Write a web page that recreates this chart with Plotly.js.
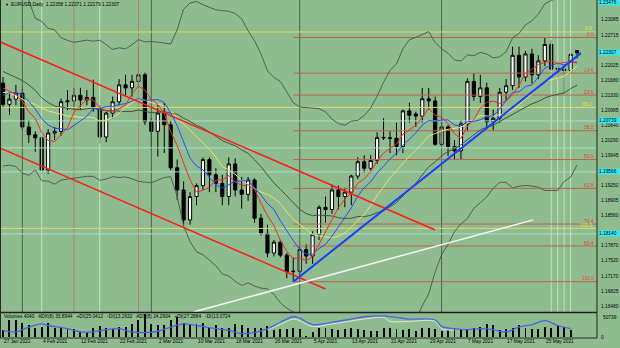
<!DOCTYPE html>
<html><head><meta charset="utf-8">
<script src="https://cdn.plot.ly/plotly-3.0.1.min.js"></script>
<style>html,body{margin:0;padding:0;background:#8FBC8F;}#chart{width:620px;height:348px;}</style>
</head><body><div id="chart"></div>
<script>
// ---------- data ----------
const dateLabels = ["27 Jan 2021","4 Feb 2021","12 Feb 2021","22 Feb 2021","2 Mar 2021","10 Mar 2021","18 Mar 2021","26 Mar 2021","5 Apr 2021","13 Apr 2021","21 Apr 2021","29 Apr 2021","7 May 2021","17 May 2021","25 May 2021"];
const dateLabelBars = [0,6,12,18,24,30,36,42,48,54,60,66,72,78,84];

// closes before the first visible bar (used only for the indicators)
const preClose = [1.2215,1.2250,1.2296,1.2216,1.2249,1.2297,1.2326,1.2272,1.2220,1.2152,1.2207,1.2160,1.2156,1.2079,1.2076,1.2131,1.2106,1.2164,1.2172,1.2140,1.2161];

const open  = [1.2161,1.2112,1.2124,1.2138,1.2060,1.2042,1.2035,1.1961,1.2046,1.2050,1.2118,1.2120,1.2133,1.2122,1.2128,1.2105,1.2037,1.2092,1.2118,1.2157,1.2150,1.2165,1.2180,1.2072,1.2050,1.2092,1.2065,1.1966,1.1915,1.1846,1.1900,1.1925,1.1985,1.1950,1.1930,1.1900,1.1975,1.1915,1.1905,1.1938,1.1850,1.1815,1.1770,1.1795,1.1765,1.1727,1.1728,1.1778,1.1763,1.1812,1.1875,1.1870,1.1915,1.1900,1.1910,1.1947,1.1980,1.1965,1.1983,1.2036,1.2035,1.2034,1.2015,1.2097,1.2090,1.2085,1.2125,1.2120,1.2020,1.2060,1.2015,1.2005,1.2067,1.2165,1.2130,1.2150,1.2072,1.2080,1.2140,1.2155,1.2225,1.2175,1.2228,1.2180,1.2212,1.2250,1.2195,1.2193,1.2190,1.22358];
const high  = [1.2175,1.2138,1.2157,1.2148,1.2076,1.2050,1.2040,1.2055,1.2060,1.2125,1.2145,1.2150,1.2150,1.2145,1.2169,1.2110,1.2095,1.2130,1.2170,1.2180,1.2180,1.2243,1.2185,1.2081,1.2110,1.2115,1.2075,1.1985,1.1935,1.1910,1.1930,1.1990,1.1990,1.1965,1.1950,1.1990,1.1988,1.1945,1.1945,1.1942,1.1860,1.1835,1.1800,1.1800,1.1770,1.1760,1.1785,1.1790,1.1820,1.1880,1.1900,1.1927,1.1925,1.1920,1.1950,1.1990,1.1995,1.1995,1.2048,1.2080,1.2050,1.2070,1.2100,1.2116,1.2095,1.2150,1.2150,1.2130,1.2075,1.2065,1.2030,1.2075,1.2172,1.2184,1.2180,1.2162,1.2100,1.2150,1.2170,1.2245,1.2245,1.2235,1.2240,1.2225,1.2266,1.2260,1.2210,1.2205,1.2230,1.22371];
const low   = [1.2105,1.2088,1.2110,1.2053,1.2023,1.2003,1.1952,1.1952,1.2030,1.2040,1.2099,1.2100,1.2100,1.2110,1.2095,1.2022,1.2025,1.2080,1.2110,1.2130,1.2130,1.2150,1.2065,1.2007,1.1992,1.2000,1.1960,1.1892,1.1835,1.1835,1.1880,1.1915,1.1910,1.1910,1.1880,1.1880,1.1900,1.1872,1.1890,1.1840,1.1810,1.1760,1.1762,1.1760,1.1712,1.1704,1.1720,1.1745,1.1745,1.1800,1.1840,1.1860,1.1870,1.1875,1.1880,1.1940,1.1955,1.1960,1.1975,1.2030,1.2000,1.1995,1.2000,1.2070,1.2060,1.2070,1.2100,1.2017,1.2015,1.1993,1.1985,1.1985,1.2050,1.2120,1.2115,1.2055,1.2052,1.2070,1.2120,1.2145,1.2150,1.2165,1.2160,1.2170,1.2200,1.2190,1.2170,1.2135,1.2185,1.22179];
const close = [1.2112,1.2124,1.2138,1.2060,1.2042,1.2035,1.1961,1.2046,1.2050,1.2118,1.2120,1.2133,1.2122,1.2128,1.2105,1.2037,1.2092,1.2118,1.2157,1.2150,1.2165,1.2180,1.2072,1.2050,1.2092,1.2065,1.1966,1.1915,1.1846,1.1900,1.1925,1.1985,1.1950,1.1930,1.1900,1.1975,1.1915,1.1905,1.1938,1.1850,1.1815,1.1770,1.1795,1.1765,1.1727,1.1728,1.1778,1.1763,1.1812,1.1875,1.1870,1.1915,1.1900,1.1910,1.1947,1.1980,1.1965,1.1983,1.2036,1.2035,1.2034,1.2015,1.2097,1.2087,1.2085,1.2125,1.2120,1.2020,1.2060,1.2015,1.2005,1.2067,1.2165,1.2130,1.2150,1.2072,1.2080,1.2140,1.2155,1.2225,1.2175,1.2228,1.2180,1.2212,1.2250,1.2193,1.2193,1.2190,1.2227,1.22307];

const volume = [15442,37502,36800,30150,26472,19120,22793,30150,19120,19120,18800,16912,11765,11765,19120,24266,19120,16912,22793,22793,28678,37502,50739,28678,26472,26472,37502,43387,30150,28678,28678,30150,19120,26472,19120,19120,28678,26472,19120,19120,19120,24266,15442,16912,16912,19120,16912,2206,11765,19120,19120,16912,15442,16912,19120,16912,15442,13972,13972,19120,19120,16912,15442,16912,13972,19120,19120,16912,13972,15442,19120,16912,15442,19120,22793,28678,26472,15442,16912,19120,26472,19120,16912,16912,21323,19120,24266,22793,15442,735];

const adxBars = [0,2,4,6,7,10,12,14,16,18,20,22,24,26,28,30,33,35,37,39,41,43,45,46,48,51,54,56,59,61,63,67,68,70,72,74,76,78,80,82,84,86,88];
const adxValues = [29,22,43,57,50,36,22,22,32,36,22,19,25,43,57,50,36,29,15,19,36,64,88,82,54,64,78,88,92,85,78,74,46,36,32,36,32,22,43,54,71,50,36];
const diBars = [41,43,45,46,48,51,54,56,59,60,63,67,68,70];
const diValues = [30,55,78,71,46,57,70,78,85,68,68,68,36,30];

// price scale tick labels (right axis); levels hidden under the cyan tags are left out
const priceTicks = ["1.16480","1.16825","1.17170","1.17520","1.17870","1.18560","1.18905","1.19250","1.19945","1.20290","1.20640","1.20985","1.21330","1.21680","1.22025","1.22715","1.23085"];

// drawn objects
const redUpperBars = [-0.5, 67];    const redUpperPrices = [1.2256, 1.1823];
const redLowerBars = [-0.5, 50];    const redLowerPrices = [1.2012, 1.1687];
const blueTrendBars = [45, 89.6];   const blueTrendPrices = [1.1704, 1.2230];
const whiteLineBars = [29.5, 82.2]; const whiteLinePrices = [1.1634, 1.18462];

const fibLevels = [0, 14.6, 23.6, 38.2, 50.0, 61.8, 76.4, 85.4, 100.0];
const fibHigh = 1.2266, fibLow = 1.1704, fibStartBar = 45;
const yellowPrices = [1.22786, 1.21050, 1.18267];
const yellowLabels = ["0.0", "38.2", "100.0"];
const cyanLinePrices = [1.20739, 1.20118, 1.19566, 1.18140];
const cyanTagPrices = [1.23476, 1.22307, 1.20739, 1.19566, 1.18140];

const monthSepBars = [3, 23, 46, 68];
const brownBars = [11, 21];
const lightBars = [6, 15, 85, 86, 87, 88];

const header = "EURUSD,Daily  1.22358 1.22371 1.22179 1.22307";
const subTitle = "Volumes 4040   ADX(8) 33.8944   +DI(25.0412   -DI(13.2632   ADX(8) 24.2904   +DI(27.2884   -DI(13.0724";
const volMaxLabel = "50739";

// ---------- indicators from closes ----------
const all = preClose.concat(close);
const P = preClose.length;
function sma(n){ return close.map((_,i)=>{const j=i+P; const s=Math.max(0,j-n+1); let a=0; for(let k=s;k<=j;k++)a+=all[k]; return a/(j-s+1);}); }
function bb(n,d,sign){ return close.map((_,i)=>{const j=i+P; const s=Math.max(0,j-n+1); let a=0,c=j-s+1; for(let k=s;k<=j;k++)a+=all[k]; const m=a/c; let v=0; for(let k=s;k<=j;k++)v+=(all[k]-m)**2; return m+sign*d*Math.sqrt(v/c);}); }
const idx = close.map((_,i)=>i);

// ---------- geometry ----------
const H = 348, W = 620;
const xEnd = 597/W;
const font = 'Liberation Sans, Arial, sans-serif';
const fs = 4.8;
const yr = [1.16342,1.23522];

const traces = [];
function vline(bars,color,w){ bars.forEach(b=>traces.push({x:[b,b],y:yr,mode:'lines',line:{color:color,width:w},hoverinfo:'skip'})); }
vline(lightBars,'#c4e2c0',1);
vline(brownBars,'#a58a5a',1);
vline(monthSepBars,'#4e5e4e',1);
const xr = [-0.465, 92.09];
cyanLinePrices.forEach(p=>traces.push({x:xr,y:[p,p],mode:'lines',line:{color:'#a6e0cf',width:1},hoverinfo:'skip'}));
yellowPrices.forEach(p=>traces.push({x:xr,y:[p,p],mode:'lines',line:{color:'#d9dc6e',width:1},hoverinfo:'skip'}));
fibLevels.forEach(l=>{const p=fibHigh-l/100*(fibHigh-fibLow); traces.push({x:[fibStartBar,xr[1]],y:[p,p],mode:'lines',line:{color:'#c0604a',width:1},hoverinfo:'skip'});});

// bollinger and MAs
traces.push({x:idx,y:bb(20,3,1),mode:'lines',line:{color:'#4f5f4f',width:1},hoverinfo:'skip'});
traces.push({x:idx,y:bb(20,3,-1),mode:'lines',line:{color:'#4f5f4f',width:1},hoverinfo:'skip'});
traces.push({x:idx,y:sma(21),mode:'lines',line:{color:'#3f553f',width:1},hoverinfo:'skip'});
traces.push({x:idx,y:sma(13),mode:'lines',line:{color:'#e6e66a',width:1},hoverinfo:'skip'});
traces.push({x:idx,y:sma(8),mode:'lines',line:{color:'#2a48ff',width:1},hoverinfo:'skip'});
traces.push({x:idx,y:sma(5),mode:'lines',line:{color:'#ee2a2a',width:1},hoverinfo:'skip'});

// candles
traces.push({type:'candlestick',x:idx,open:open,high:high,low:low,close:close,
  increasing:{line:{color:'#000',width:1},fillcolor:'#ffffff'},
  decreasing:{line:{color:'#000',width:1},fillcolor:'#000000'},hoverinfo:'skip'});

// trend lines
traces.push({x:redUpperBars,y:redUpperPrices,mode:'lines',line:{color:'#ff1a1a',width:1.5},hoverinfo:'skip'});
traces.push({x:redLowerBars,y:redLowerPrices,mode:'lines',line:{color:'#ff1a1a',width:1.5},hoverinfo:'skip'});
traces.push({x:whiteLineBars,y:whiteLinePrices,mode:'lines',line:{color:'#f4f4f4',width:1.5},hoverinfo:'skip'});
traces.push({x:blueTrendBars,y:blueTrendPrices,mode:'lines',line:{color:'#1a3cff',width:2},hoverinfo:'skip'});

// sub panel
traces.push({type:'bar',x:idx,y:volume,xaxis:'x',yaxis:'y2',marker:{color:'#000'},width:0.3,hoverinfo:'skip'});
traces.push({x:diBars,y:diValues,xaxis:'x',yaxis:'y3',mode:'lines',line:{color:'#dfe8dc',width:1,shape:'spline'},hoverinfo:'skip'});
traces.push({x:adxBars,y:adxValues,xaxis:'x',yaxis:'y3',mode:'lines',line:{color:'#4a64e8',width:1.3,shape:'spline'},hoverinfo:'skip'});

const ann = [];
dateLabels.forEach((t,k)=>ann.push({x:dateLabelBars[k],xref:'x',y:(H-341)/H,yref:'paper',text:t,showarrow:false,xanchor:'left',yanchor:'middle',xshift:-1,font:{family:font,size:fs,color:'#000'}}));
ann.push({x:3/W,y:1-4.5/H,xref:'paper',yref:'paper',text:'▼',showarrow:false,xanchor:'left',yanchor:'middle',font:{family:font,size:4,color:'#000'}});
ann.push({x:9/W,y:1-4.5/H,xref:'paper',yref:'paper',text:header,showarrow:false,xanchor:'left',yanchor:'middle',font:{family:font,size:fs,color:'#000'}});
ann.push({x:2/W,y:(H-316)/H,xref:'paper',yref:'paper',text:subTitle,showarrow:false,xanchor:'left',yanchor:'middle',font:{family:font,size:fs,color:'#000'}});
ann.push({x:601/W,y:(H-317)/H,xref:'paper',yref:'paper',text:volMaxLabel,showarrow:false,xanchor:'left',yanchor:'middle',font:{family:font,size:fs,color:'#000'}});
ann.push({x:599/W,y:(H-337)/H,xref:'paper',yref:'paper',text:'0',showarrow:false,xanchor:'left',yanchor:'middle',font:{family:font,size:fs,color:'#000'}});
fibLevels.forEach(l=>{const p=fibHigh-l/100*(fibHigh-fibLow); ann.push({x:596/W,xref:'paper',y:p,yref:'y',yshift:3,text:l.toFixed(1),showarrow:false,xanchor:'right',yanchor:'middle',font:{family:font,size:fs,color:'#ee3a2a'}});});
yellowPrices.forEach((p,k)=>ann.push({x:594/W,xref:'paper',y:p,yref:'y',yshift:3,text:yellowLabels[k],showarrow:false,xanchor:'right',yanchor:'middle',font:{family:font,size:fs,color:'#e4e44a'}}));
cyanTagPrices.forEach(p=>ann.push({x:598/W,xref:'paper',y:p,yref:'y',text:p.toFixed(5),showarrow:false,xanchor:'left',yanchor:'middle',bgcolor:'#35e8f2',borderpad:0,width:22,align:'left',font:{family:font,size:fs,color:'#000'}}));

const shapes = [
  {type:'line',xref:'paper',yref:'paper',x0:0,x1:xEnd,y0:(H-312.5)/H,y1:(H-312.5)/H,line:{color:'#1e1e1e',width:1.5}},
  {type:'line',xref:'paper',yref:'paper',x0:0,x1:xEnd,y0:(H-338)/H,y1:(H-338)/H,line:{color:'#2a2a2a',width:1}},
  {type:'line',xref:'paper',yref:'paper',x0:0.5/W,x1:0.5/W,y0:(H-338)/H,y1:1,line:{color:'#2a2a2a',width:1}},
  {type:'line',xref:'paper',yref:'paper',x0:xEnd,x1:xEnd,y0:(H-338)/H,y1:1,line:{color:'#1e1e1e',width:1}}
];

const layout = {
  width:W,height:H,margin:{l:0,r:0,t:0,b:0},
  paper_bgcolor:'#8FBC8F',plot_bgcolor:'#8FBC8F',showlegend:false,
  xaxis:{domain:[0,xEnd],range:xr,showgrid:false,zeroline:false,showticklabels:false,ticks:'',anchor:'y2',rangeslider:{visible:false},fixedrange:true},
  yaxis:{domain:[36/H,1],range:yr,side:'right',anchor:'x',tickvals:priceTicks.map(Number),ticktext:priceTicks,ticks:'',showgrid:false,zeroline:false,tickfont:{family:font,size:fs,color:'#000'},ticklabelstandoff:3},
  yaxis2:{domain:[11/H,34/H],range:[0,50739],side:'right',anchor:'x',showticklabels:false,showgrid:false,zeroline:false,ticks:''},
  yaxis3:{overlaying:'y2',range:[0,100],visible:false,side:'right',anchor:'x'},
  annotations:ann,shapes:shapes,bargap:0
};
Plotly.newPlot('chart',traces,layout,{staticPlot:true});
</script></body></html>
